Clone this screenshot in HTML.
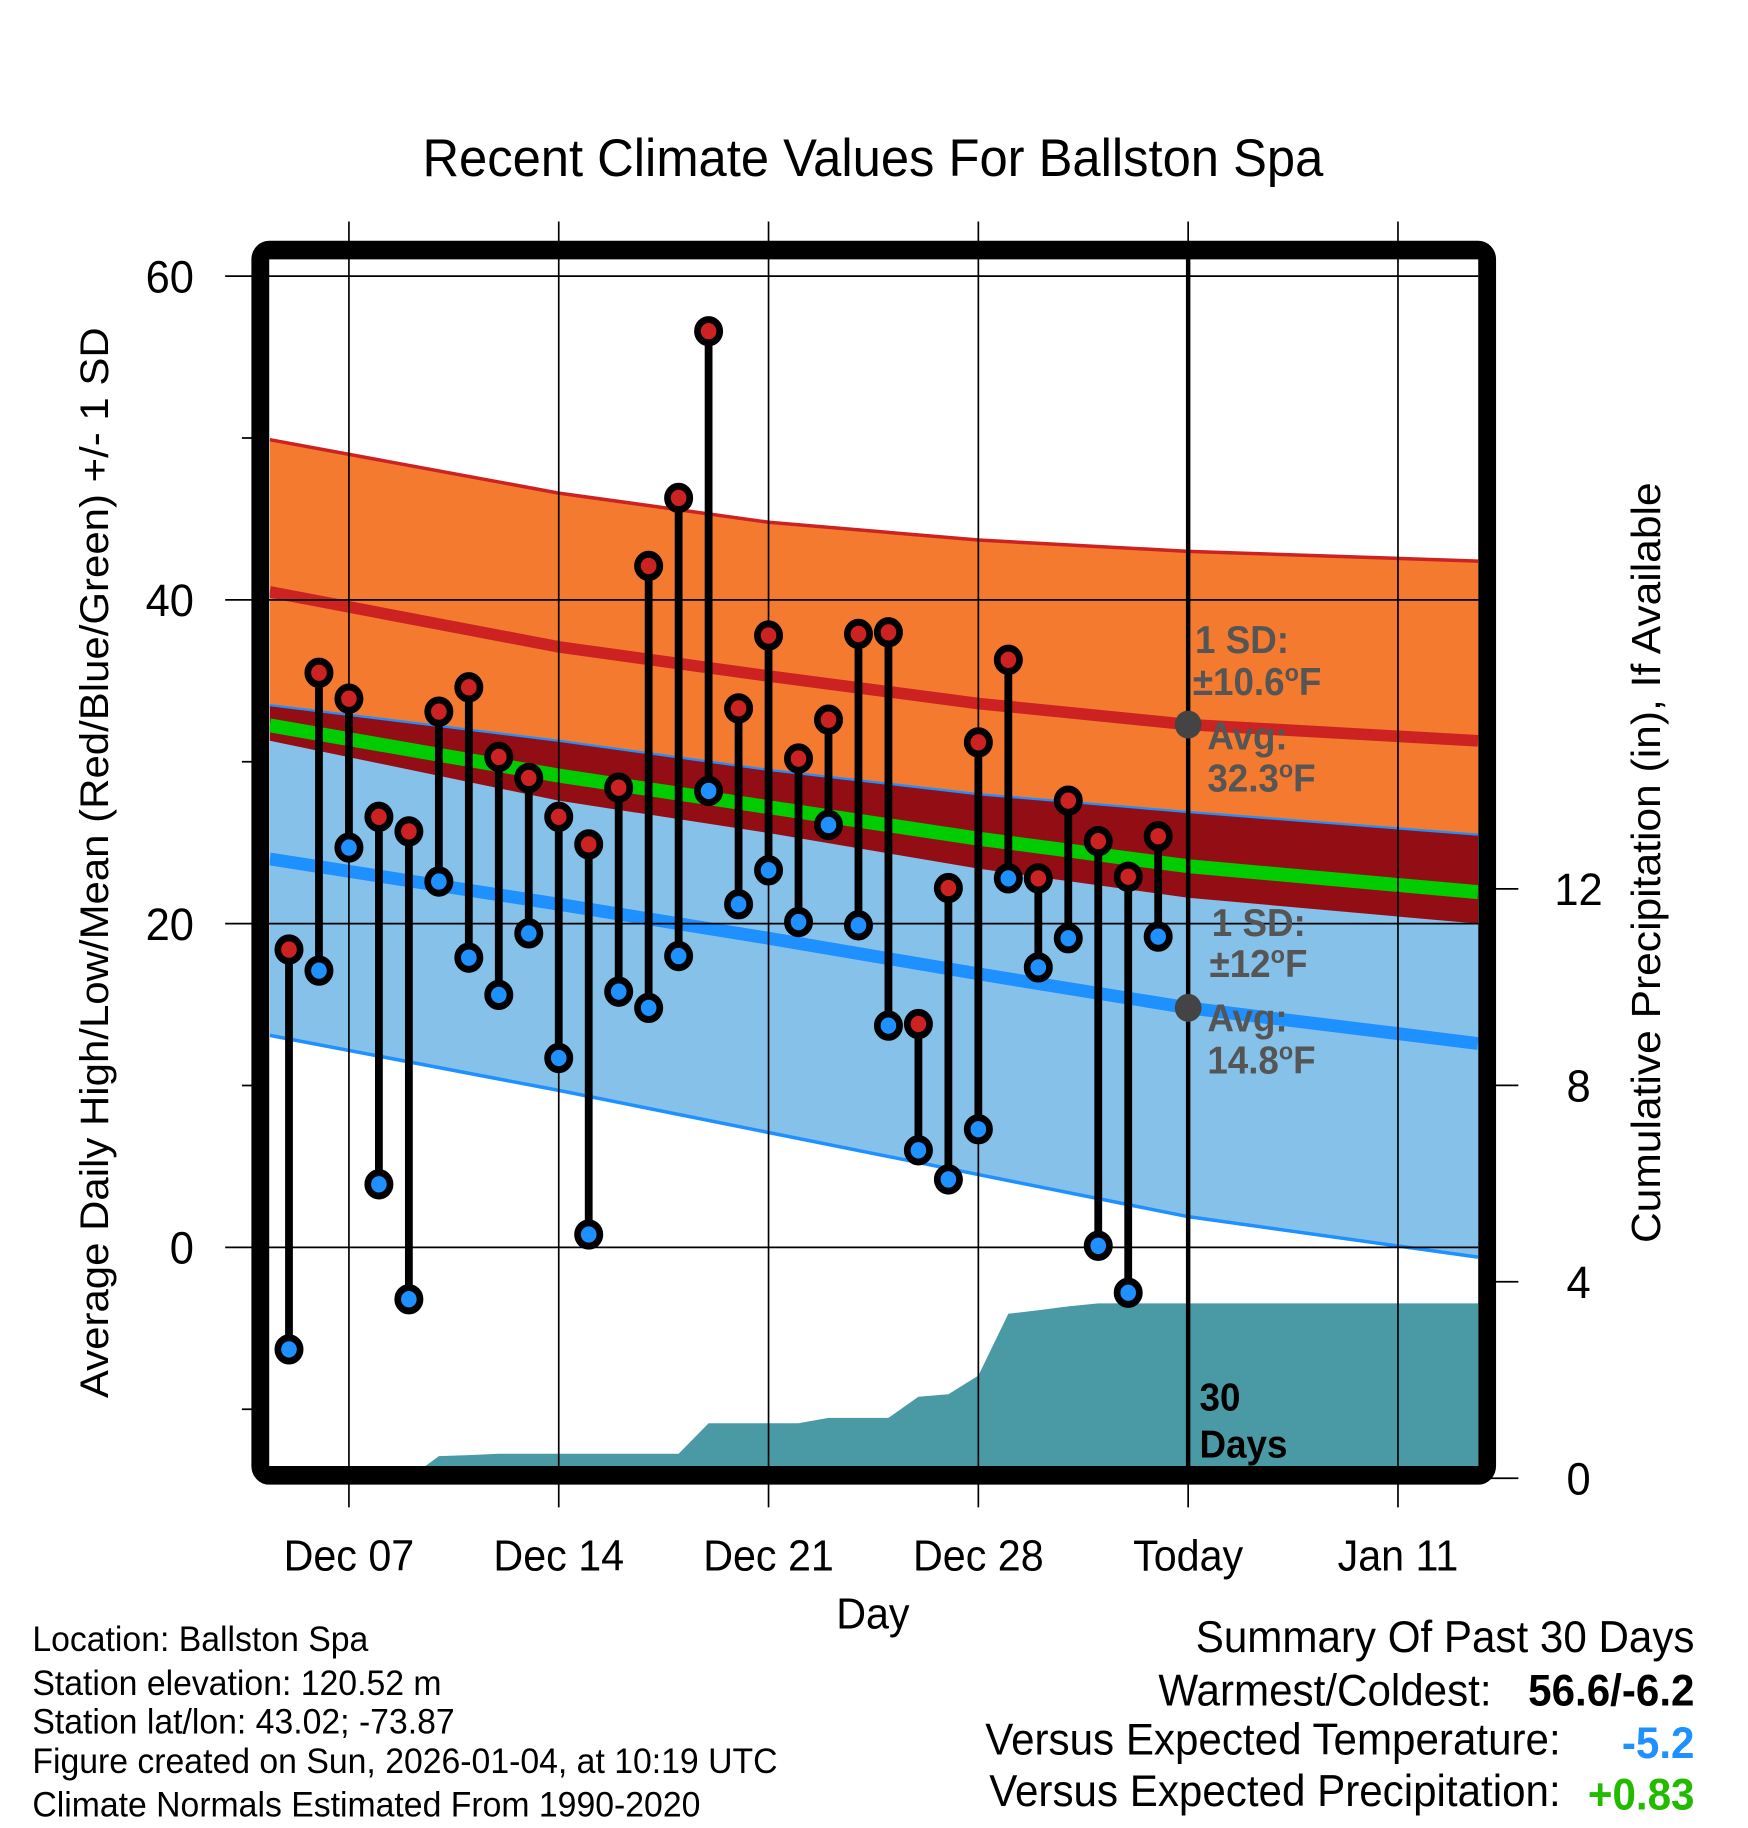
<!DOCTYPE html>
<html><head><meta charset="utf-8"><style>
html,body{margin:0;padding:0;background:#fff;}
svg{display:block;font-family:"Liberation Sans",Arial,sans-serif;}
</style></head><body>
<svg id="chart" width="1748" height="1828" viewBox="0 0 1568 1568" preserveAspectRatio="none" xmlns="http://www.w3.org/2000/svg">
<defs><clipPath id="plotclip"><rect x="242" y="222" width="1084" height="1036"/></clipPath></defs>
<g id="layer-bands" clip-path="url(#plotclip)"></g>
<g id="layer-grid"></g>
<g id="layer-marks"></g>
<rect x="233.5" y="214.5" width="1100.5" height="1051" rx="8" fill="none" stroke="#000" stroke-width="16"/>
<text x="783" y="151" font-size="45.5" text-anchor="middle">Recent Climate Values For Ballston Spa</text>
<text x="783" y="1397" font-size="37" text-anchor="middle">Day</text>
<text transform="translate(97,740) rotate(-90)" font-size="36" text-anchor="middle">Average Daily High/Low/Mean (Red/Blue/Green) +/- 1 SD</text>
<text transform="translate(1489,740) rotate(-90)" font-size="36.5" text-anchor="middle">Cumulative Precipitation (in), If Available</text>
<g font-size="33" font-weight="bold" fill="#555">
<text x="1072" y="560">1 SD:</text>
<text x="1070" y="596">±10.6<tspan font-size="21" dy="-12">o</tspan><tspan dy="12">F</tspan></text>
<text x="1083" y="643">Avg:</text>
<text x="1083" y="679">32.3<tspan font-size="21" dy="-12">o</tspan><tspan dy="12">F</tspan></text>
</g>
<g font-size="33" font-weight="bold" fill="#555">
<text x="1087" y="803">1 SD:</text>
<text x="1085" y="838">±12<tspan font-size="21" dy="-12">o</tspan><tspan dy="12">F</tspan></text>
<text x="1083" y="885">Avg:</text>
<text x="1083" y="921">14.8<tspan font-size="21" dy="-12">o</tspan><tspan dy="12">F</tspan></text>
</g>
<text x="1076" y="1210" font-size="33" font-weight="bold">30</text>
<text x="1076" y="1250" font-size="33" font-weight="bold">Days</text>
<g font-size="30.3">
<text x="29" y="1416">Location: Ballston Spa</text>
<text x="29" y="1454">Station elevation: 120.52 m</text>
<text x="29" y="1487">Station lat/lon: 43.02; -73.87</text>
<text x="29" y="1521">Figure created on Sun, 2026-01-04, at 10:19 UTC</text>
<text x="29" y="1558">Climate Normals Estimated From 1990-2020</text>
</g>
<g font-size="37.8">
<text x="1520" y="1417" text-anchor="end">Summary Of Past 30 Days</text>
<text x="1338" y="1463" text-anchor="end">Warmest/Coldest:</text>
<text x="1520" y="1463" text-anchor="end" font-weight="bold">56.6/-6.2</text>
<text x="1400" y="1505" text-anchor="end">Versus Expected Temperature:</text>
<text x="1520" y="1508" text-anchor="end" font-weight="bold" fill="#1e90ff">-5.2</text>
<text x="1400" y="1549" text-anchor="end">Versus Expected Precipitation:</text>
<text x="1520" y="1552" text-anchor="end" font-weight="bold" fill="#22bb00">+0.83</text>
</g>
</svg>
<script>
// daily observations, Dec 05 .. Jan 03 (day index 0 = Dec 07)
const obsDays = [-2,-1,0,1,2,3,4,5,6,7,8,9,10,11,12,13,14,15,16,17,18,19,20,21,22,23,24,25,26,27];
const highs = [18.4,35.5,33.9,26.6,25.7,33.1,34.6,30.3,29.0,26.6,24.9,28.4,42.1,46.3,56.6,33.3,37.8,30.2,32.6,37.9,38.0,13.8,22.2,31.2,36.3,22.8,27.6,25.1,22.9,25.4];
const lows = [-6.3,17.1,24.7,3.9,-3.2,22.6,17.9,15.6,19.4,11.7,0.8,15.8,14.8,18.0,28.2,21.2,23.3,20.1,26.1,19.9,13.7,6.0,4.2,7.3,22.8,17.3,19.1,0.1,-2.8,19.2];
const precip = [0,0,0,0,0,0.45,0.47,0.5,0.5,0.5,0.5,0.5,0.5,0.5,1.12,1.12,1.12,1.12,1.23,1.23,1.23,1.66,1.71,2.09,3.35,3.42,3.5,3.56,3.56,3.56];
// climate normals at knot days
const normDays = [-2.64,7,14,21,28,37.67];
const normHigh = [40.5,37.1,35.3,33.6,32.3,31.3];
const highUpper = [49.9,46.6,44.8,43.7,43.0,42.4];
const highLower = [31.3,27.6,25.6,23.4,21.6,20.0];
const normLow = [24.0,21.2,19.1,16.9,14.8,12.6];
const lowUpper = [33.5,31.3,29.5,28.0,26.9,25.5];
const lowLower = [13.1,9.7,7.1,4.5,1.9,-0.6];
const xTickDays = [0,7,14,21,28,35];
const xTickLabels = ["Dec 07","Dec 14","Dec 21","Dec 28","Today","Jan 11"];
const yTicks = [0,20,40,60];
const yMinor = [-10,10,30,50];
const y2Ticks = [0,4,8,12];
const todayDay = 28;

const NS="http://www.w3.org/2000/svg";
const X0=242,X1=1326,Y0=222,Y1=1258;
const xs = d => 313 + d*26.886;
const ys = v => 1070 - v*13.885;
const yp = p => 1268 - p*42.13;
function el(tag, attrs, parent){const e=document.createElementNS(NS,tag);for(const k in attrs)e.setAttribute(k,attrs[k]);parent.appendChild(e);return e;}
const bands=document.getElementById('layer-bands'),grid=document.getElementById('layer-grid'),marks=document.getElementById('layer-marks');
const pts=(arr)=>normDays.map((d,i)=>xs(d)+','+ys(arr[i]));
function band(top,bot,fill,name){const p=pts(top).concat(pts(bot).reverse());const e=el('polygon',{points:p.join(' '),fill:fill},bands);

}
function line(arr,col,w,name){const e=el('polyline',{points:pts(arr).join(' '),fill:'none',stroke:col,'stroke-width':w},bands);

}
band(highUpper,highLower,'#f47a2f','high-sd-band');
band(lowUpper,lowLower,'#85c1e9','low-sd-band');
band(lowUpper,highLower,'#920e14','overlap-band');
line(highUpper,'#cc2222',3,'high-upper-line');
line(lowUpper,'#1e90ff',2,'low-upper-line');
line(lowLower,'#1e90ff',3,'low-lower-line');
line(normHigh,'#cc2222',10,'normal-high-line');
const mean=normHigh.map((h,i)=>(h+normLow[i])/2);
line(mean,'#00cc00',12,'normal-mean-line');
line(normLow,'#1e90ff',11,'normal-low-line');
// precip area
let pp=[xs(-2.64)+','+yp(0)];
obsDays.forEach((d,i)=>pp.push(xs(d)+','+yp(precip[i])));
pp.push(xs(37.67)+','+yp(precip[precip.length-1]));
pp.push(xs(37.67)+','+yp(0));
const pa=el('polygon',{points:pp.join(' '),fill:'#4a9aa5'},bands);


// grid
xTickDays.forEach((d,i)=>{const g=el('line',{x1:xs(d),x2:xs(d),y1:190,y2:1293,stroke:'#000','stroke-width':1.5},grid);


const t=el('text',{x:xs(d),y:1347,'font-size':37,'text-anchor':'middle'},grid);t.textContent=xTickLabels[i];

});
yTicks.forEach(v=>{const g=el('line',{x1:202,x2:X1,y1:ys(v),y2:ys(v),stroke:'#000','stroke-width':1.5},grid);


const t=el('text',{x:174,y:ys(v)+14,'font-size':39,'text-anchor':'end'},grid);t.textContent=v;

});
yMinor.forEach(v=>{const g=el('line',{x1:217,x2:235,y1:ys(v),y2:ys(v),stroke:'#000','stroke-width':1.5},grid);

});
y2Ticks.forEach(v=>{const g=el('line',{x1:1334,x2:1362,y1:yp(v),y2:yp(v),stroke:'#000','stroke-width':1.5},grid);


const t=el('text',{x:1416,y:yp(v)+14,'font-size':39,'text-anchor':'middle'},grid);t.textContent=v;

});
const tl=el('line',{x1:xs(todayDay),x2:xs(todayDay),y1:Y0,y2:Y1,stroke:'#000','stroke-width':4},grid);


// normal markers at today
[32.3,14.8].forEach(v=>{const c=el('circle',{cx:xs(todayDay),cy:ys(v),r:12,fill:'#444'},grid);

});
// stems & markers
obsDays.forEach((d,i)=>{
const s=el('line',{x1:xs(d),x2:xs(d),y1:ys(highs[i]),y2:ys(lows[i]),stroke:'#000','stroke-width':7},marks);


const h=el('circle',{cx:xs(d),cy:ys(highs[i]),r:10,fill:'#cc2222',stroke:'#000','stroke-width':6},marks);


const l=el('circle',{cx:xs(d),cy:ys(lows[i]),r:10,fill:'#1e90ff',stroke:'#000','stroke-width':6},marks);


});
</script>
</body></html>
